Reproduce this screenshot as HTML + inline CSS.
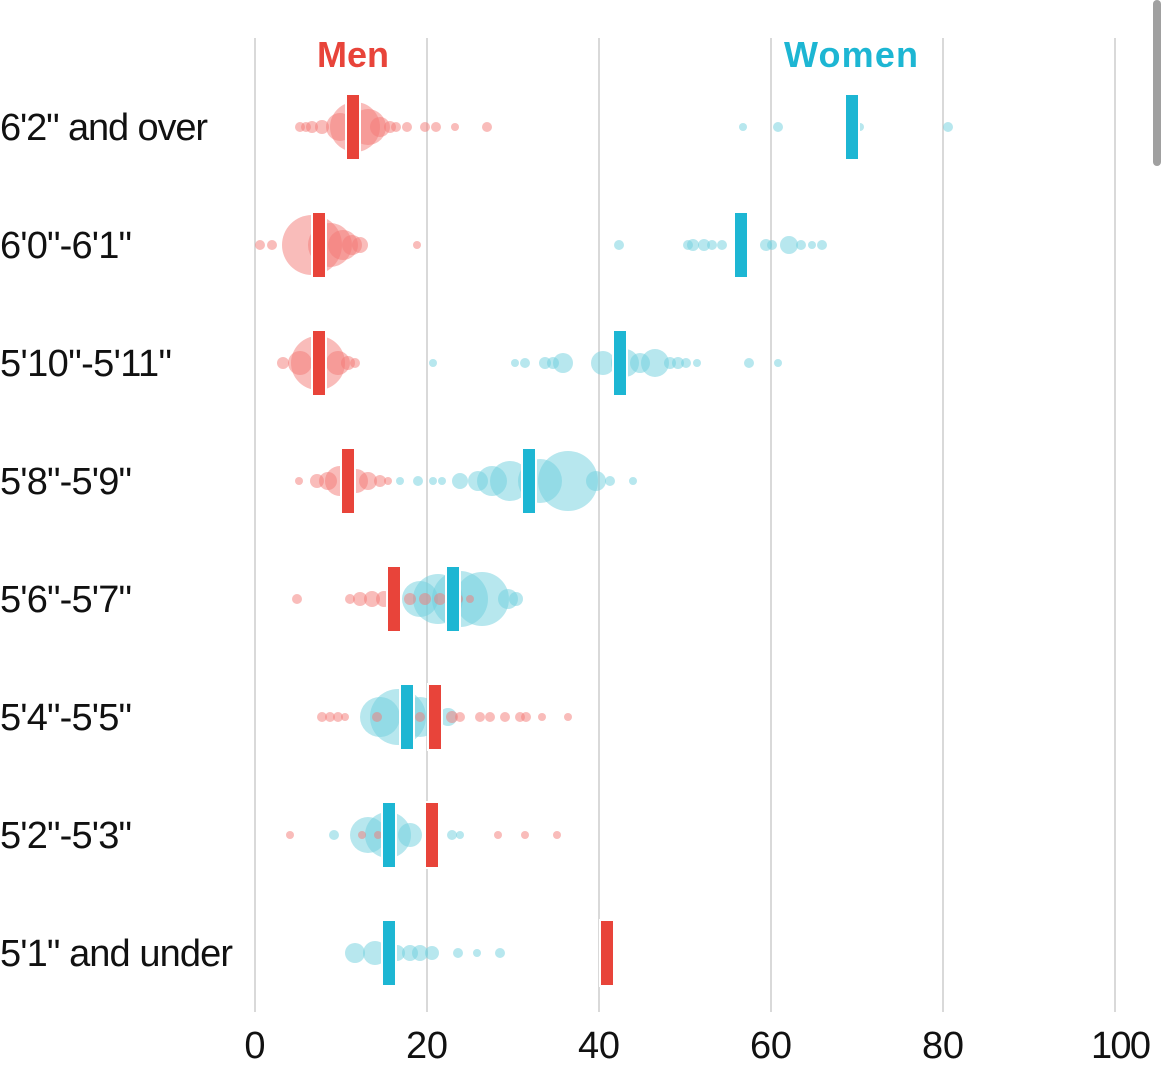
<!DOCTYPE html>
<html><head><meta charset="utf-8"><style>
html,body{margin:0;padding:0;background:#fff;width:1170px;height:1090px;overflow:hidden}
svg text{font-family:"Liberation Sans",sans-serif}
.m{fill:#f47a76;fill-opacity:.5}
.w{fill:#6fd0de;fill-opacity:.5}
.rb{fill:#e8443a;stroke:#fff;stroke-width:2}
.bb{fill:#1db6d3;stroke:#fff;stroke-width:2}
.lab{font-size:38px;fill:#111}
.tk{font-size:38px;fill:#111;text-anchor:middle}
</style></head><body>
<svg width="1170" height="1090" xmlns="http://www.w3.org/2000/svg">
<g stroke="#d9d9d9" stroke-width="2">
<line x1="255" y1="38" x2="255" y2="1012"/><line x1="427" y1="38" x2="427" y2="1012"/>
<line x1="599" y1="38" x2="599" y2="1012"/><line x1="771" y1="38" x2="771" y2="1012"/>
<line x1="943" y1="38" x2="943" y2="1012"/><line x1="1115" y1="38" x2="1115" y2="1012"/>
</g>
<rect x="1153" y="0" width="8" height="166" rx="4" fill="#a0a0a0"/>
<text x="353" y="67" font-size="36" font-weight="bold" fill="#e8443a" text-anchor="middle" textLength="72">Men</text>
<text x="851" y="67" font-size="36" font-weight="bold" fill="#1db6d3" text-anchor="middle" textLength="134">Women</text>

<text class="lab" x="0" y="140" textLength="208">6'2" and over</text>
<text class="lab" x="0" y="258" textLength="132">6'0"-6'1"</text>
<text class="lab" x="0" y="376" textLength="172">5'10"-5'11"</text>
<text class="lab" x="0" y="494" textLength="132">5'8"-5'9"</text>
<text class="lab" x="0" y="612" textLength="132">5'6"-5'7"</text>
<text class="lab" x="0" y="730" textLength="132">5'4"-5'5"</text>
<text class="lab" x="0" y="848" textLength="132">5'2"-5'3"</text>
<text class="lab" x="0" y="966" textLength="233">5'1" and under</text>

<text class="tk" x="255" y="1058">0</text><text class="tk" x="427" y="1058" textLength="42">20</text>
<text class="tk" x="599" y="1058" textLength="42">40</text><text class="tk" x="771" y="1058" textLength="42">60</text>
<text class="tk" x="943" y="1058" textLength="42">80</text><text x="1091" y="1058" font-size="38" fill="#111" textLength="60">100</text>

<!-- row1 -->
<g class="m">
<circle cx="355" cy="127" r="25"/><circle cx="340" cy="127" r="14"/><circle cx="368" cy="127" r="18"/><circle cx="380" cy="127" r="10"/><circle cx="390" cy="127" r="6"/>
<circle cx="300" cy="127" r="5"/><circle cx="306" cy="127" r="5"/><circle cx="312" cy="127" r="6"/><circle cx="322" cy="127" r="7"/><circle cx="396" cy="127" r="5"/><circle cx="407" cy="127" r="5"/><circle cx="425" cy="127" r="5"/><circle cx="436" cy="127" r="5"/><circle cx="455" cy="127" r="4"/><circle cx="487" cy="127" r="5"/>
</g>
<g class="w"><circle cx="743" cy="127" r="4"/><circle cx="778" cy="127" r="5"/><circle cx="860" cy="127" r="4"/><circle cx="948" cy="127" r="5"/></g>
<rect class="rb" x="346" y="94" width="14" height="66"/><rect class="bb" x="845" y="94" width="14" height="66"/>
<!-- row2 -->
<g class="m">
<circle cx="312" cy="245" r="30"/><circle cx="330" cy="245" r="22"/><circle cx="343" cy="245" r="15"/><circle cx="352" cy="245" r="10"/><circle cx="360" cy="245" r="8"/>
<circle cx="260" cy="245" r="5"/><circle cx="272" cy="245" r="5"/><circle cx="417" cy="245" r="4"/></g>
<g class="w"><circle cx="619" cy="245" r="5"/><circle cx="688" cy="245" r="5"/><circle cx="693" cy="245" r="6"/><circle cx="704" cy="245" r="6"/><circle cx="712" cy="245" r="5"/><circle cx="722" cy="245" r="5"/><circle cx="766" cy="245" r="6"/><circle cx="772" cy="245" r="5"/><circle cx="789" cy="245" r="9"/><circle cx="801" cy="245" r="5"/><circle cx="812" cy="245" r="4"/><circle cx="822" cy="245" r="5"/></g>
<rect class="rb" x="312" y="212" width="14" height="66"/><rect class="bb" x="734" y="212" width="14" height="66"/>
<!-- row3 -->
<g class="m"><circle cx="318" cy="363" r="27"/><circle cx="300" cy="363" r="12"/><circle cx="283" cy="363" r="6"/><circle cx="338" cy="363" r="12"/><circle cx="348" cy="363" r="7"/><circle cx="355" cy="363" r="5"/></g>
<g class="w"><circle cx="433" cy="363" r="4"/><circle cx="515" cy="363" r="4"/><circle cx="525" cy="363" r="5"/><circle cx="545" cy="363" r="6"/><circle cx="553" cy="363" r="6"/><circle cx="563" cy="363" r="10"/><circle cx="603" cy="363" r="12"/><circle cx="625" cy="363" r="14"/><circle cx="640" cy="363" r="10"/><circle cx="655" cy="363" r="14"/><circle cx="670" cy="363" r="6"/><circle cx="678" cy="363" r="6"/><circle cx="686" cy="363" r="5"/><circle cx="697" cy="363" r="4"/><circle cx="749" cy="363" r="5"/><circle cx="778" cy="363" r="4"/></g>
<rect class="rb" x="312" y="330" width="14" height="66"/><rect class="bb" x="613" y="330" width="14" height="66"/>
<!-- row4 -->
<g class="m"><circle cx="299" cy="481" r="4"/><circle cx="317" cy="481" r="7"/><circle cx="328" cy="481" r="9"/><circle cx="340" cy="481" r="15"/><circle cx="356" cy="481" r="12"/><circle cx="368" cy="481" r="9"/><circle cx="380" cy="481" r="6"/><circle cx="388" cy="481" r="4"/></g>
<g class="w"><circle cx="400" cy="481" r="4"/><circle cx="418" cy="481" r="5"/><circle cx="433" cy="481" r="4"/><circle cx="442" cy="481" r="4"/><circle cx="460" cy="481" r="8"/><circle cx="478" cy="481" r="10"/><circle cx="492" cy="481" r="15"/><circle cx="510" cy="481" r="20"/><circle cx="540" cy="481" r="22"/><circle cx="568" cy="481" r="30"/><circle cx="596" cy="481" r="10"/><circle cx="610" cy="481" r="5"/><circle cx="633" cy="481" r="4"/></g>
<rect class="rb" x="341" y="448" width="14" height="66"/><rect class="bb" x="522" y="448" width="14" height="66"/>
<!-- row5 -->
<g class="w"><circle cx="420" cy="599" r="18"/><circle cx="438" cy="599" r="25"/><circle cx="460" cy="599" r="28"/><circle cx="482" cy="599" r="27"/><circle cx="508" cy="599" r="10"/><circle cx="516" cy="599" r="7"/></g>
<g class="m"><circle cx="297" cy="599" r="5"/><circle cx="350" cy="599" r="5"/><circle cx="360" cy="599" r="7"/><circle cx="372" cy="599" r="8"/><circle cx="384" cy="599" r="8"/><circle cx="410" cy="599" r="6"/><circle cx="425" cy="599" r="6"/><circle cx="440" cy="599" r="6"/><circle cx="458" cy="599" r="5"/><circle cx="470" cy="599" r="4"/></g>
<rect class="rb" x="387" y="566" width="14" height="66"/><rect class="bb" x="446" y="566" width="14" height="66"/>
<!-- row6 -->
<g class="w"><circle cx="380" cy="717" r="20"/><circle cx="398" cy="717" r="28"/><circle cx="420" cy="717" r="20"/><circle cx="448" cy="717" r="9"/></g>
<g class="m"><circle cx="322" cy="717" r="5"/><circle cx="330" cy="717" r="5"/><circle cx="338" cy="717" r="5"/><circle cx="345" cy="717" r="4"/><circle cx="377" cy="717" r="5"/><circle cx="420" cy="717" r="5"/><circle cx="452" cy="717" r="6"/><circle cx="460" cy="717" r="5"/><circle cx="480" cy="717" r="5"/><circle cx="490" cy="717" r="5"/><circle cx="505" cy="717" r="5"/><circle cx="520" cy="717" r="5"/><circle cx="526" cy="717" r="5"/><circle cx="542" cy="717" r="4"/><circle cx="568" cy="717" r="4"/></g>
<rect class="bb" x="400" y="684" width="14" height="66"/><rect class="rb" x="428" y="684" width="14" height="66"/>
<!-- row7 -->
<g class="w"><circle cx="334" cy="835" r="5"/><circle cx="368" cy="835" r="18"/><circle cx="388" cy="835" r="23"/><circle cx="410" cy="835" r="12"/><circle cx="452" cy="835" r="5"/><circle cx="460" cy="835" r="4"/></g>
<g class="m"><circle cx="290" cy="835" r="4"/><circle cx="362" cy="835" r="4"/><circle cx="378" cy="835" r="4"/><circle cx="498" cy="835" r="4"/><circle cx="525" cy="835" r="4"/><circle cx="557" cy="835" r="4"/></g>
<rect class="bb" x="382" y="802" width="14" height="66"/><rect class="rb" x="425" y="802" width="14" height="66"/>
<!-- row8 -->
<g class="w"><circle cx="355" cy="953" r="10"/><circle cx="375" cy="953" r="12"/><circle cx="397" cy="953" r="8"/><circle cx="410" cy="953" r="8"/><circle cx="420" cy="953" r="8"/><circle cx="432" cy="953" r="7"/><circle cx="458" cy="953" r="5"/><circle cx="477" cy="953" r="4"/><circle cx="500" cy="953" r="5"/></g>
<rect class="bb" x="382" y="920" width="14" height="66"/><rect class="rb" x="600" y="920" width="14" height="66"/>
</svg>
</body></html>
